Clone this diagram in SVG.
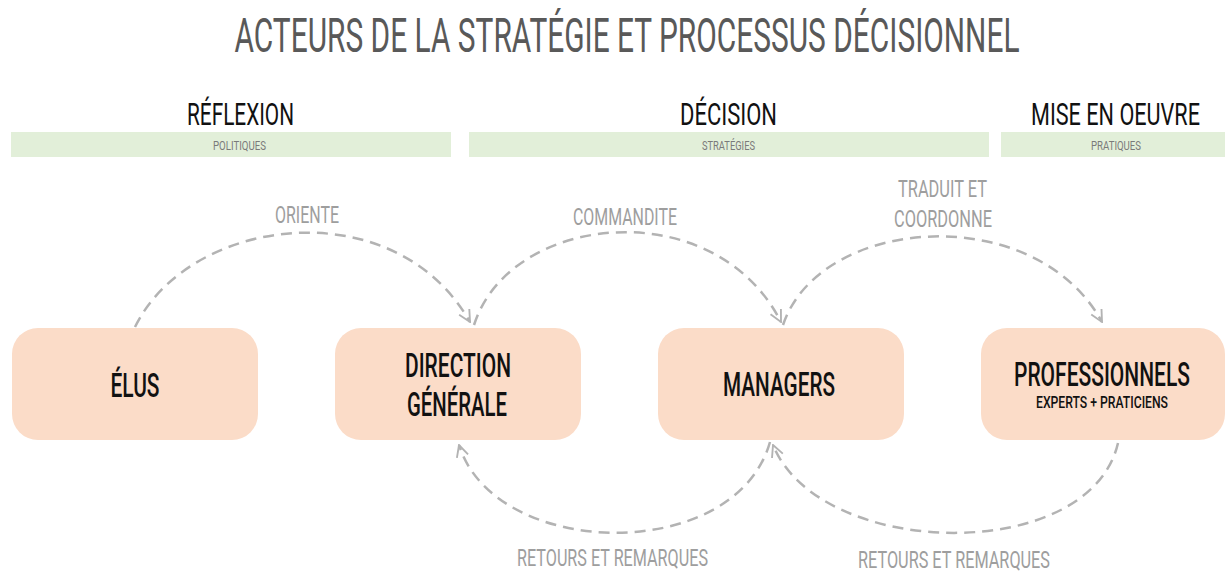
<svg xmlns="http://www.w3.org/2000/svg" width="1225" height="572" viewBox="0 0 1225 572">
<style>
text { font-family: "Roboto", "Liberation Sans", sans-serif; text-anchor: middle; }
.title { font-size: 48px; fill: #595959; font-weight: 400; }
.sec { font-size: 32px; fill: #111; font-weight: 400; }
.sub { font-size: 13px; fill: #7a7a7a; }
.bar { fill: #e2efd9; }
.node rect { fill: #fbdcc8; }
.ntxt { font-size: 33px; fill: #111; font-weight: 500; }
.nsub { font-size: 16px; fill: #111; font-weight: 500; }
.lbl { font-size: 24px; fill: #9e9e9e; }
.conn path { fill: none; stroke: #b3b3b3; stroke-width: 2.5; stroke-dasharray: 11 7; marker-end: url(#arr); }
</style>
<defs>
<marker id="arr" viewBox="0 0 12 12" refX="11" refY="6" markerWidth="14" markerHeight="14" markerUnits="userSpaceOnUse" orient="auto">
<path d="M1,1 L11,6 L1,11" fill="none" stroke="#b3b3b3" stroke-width="1.6"/>
</marker>
</defs>
<rect width="1225" height="572" fill="#ffffff"/>
<text class="title" x="627" y="52" textLength="785" lengthAdjust="spacingAndGlyphs">ACTEURS DE LA STRATÉGIE ET PROCESSUS DÉCISIONNEL</text>

<g id="header-reflexion">
<text class="sec" x="240.5" y="125" textLength="107" lengthAdjust="spacingAndGlyphs">RÉFLEXION</text>
<rect class="bar" x="11" y="132" width="440" height="25"/>
<text class="sub" x="239.5" y="150" textLength="53" lengthAdjust="spacingAndGlyphs">POLITIQUES</text>
</g>
<g id="header-decision">
<text class="sec" x="728.5" y="125" textLength="97" lengthAdjust="spacingAndGlyphs">DÉCISION</text>
<rect class="bar" x="469" y="132" width="520" height="25"/>
<text class="sub" x="728.5" y="150" textLength="53" lengthAdjust="spacingAndGlyphs">STRATÉGIES</text>
</g>
<g id="header-oeuvre">
<text class="sec" x="1115.5" y="125" textLength="169" lengthAdjust="spacingAndGlyphs">MISE EN OEUVRE</text>
<rect class="bar" x="1001" y="132" width="224" height="25"/>
<text class="sub" x="1116" y="150" textLength="50" lengthAdjust="spacingAndGlyphs">PRATIQUES</text>
</g>

<g id="connectors" class="conn">
<path d="M135,327 C190,215 395,190 470,322"/>
<path d="M474,325 C510,212 715,192 781,322"/>
<path d="M783,325 C820,215 1035,200 1102,322"/>
<path d="M770,442 C735,565 495,560 459,445"/>
<path d="M1118,443 C1090,565 820,560 773,445"/>
</g>
<g id="labels">
<text class="lbl" x="307" y="223" textLength="64" lengthAdjust="spacingAndGlyphs">ORIENTE</text>
<text class="lbl" x="625" y="225" textLength="104" lengthAdjust="spacingAndGlyphs">COMMANDITE</text>
<text class="lbl" x="942.5" y="197" textLength="89" lengthAdjust="spacingAndGlyphs">TRADUIT ET</text>
<text class="lbl" x="943" y="227" textLength="98" lengthAdjust="spacingAndGlyphs">COORDONNE</text>
<text class="lbl" x="612.5" y="566" textLength="191" lengthAdjust="spacingAndGlyphs">RETOURS ET REMARQUES</text>
<text class="lbl" x="954" y="568" textLength="192" lengthAdjust="spacingAndGlyphs">RETOURS ET REMARQUES</text>
</g>

<g id="node-elus" class="node">
<rect x="12" y="328" width="246" height="112" rx="26"/>
<text class="ntxt" x="135" y="397" textLength="49" lengthAdjust="spacingAndGlyphs">ÉLUS</text>
</g>
<g id="node-direction" class="node">
<rect x="335" y="328" width="246" height="112" rx="26"/>
<text class="ntxt" x="458" y="377" textLength="106" lengthAdjust="spacingAndGlyphs">DIRECTION</text>
<text class="ntxt" x="457" y="416" textLength="100" lengthAdjust="spacingAndGlyphs">GÉNÉRALE</text>
</g>
<g id="node-managers" class="node">
<rect x="658" y="328" width="246" height="112" rx="26"/>
<text class="ntxt" x="779" y="396" textLength="112" lengthAdjust="spacingAndGlyphs">MANAGERS</text>
</g>
<g id="node-professionnels" class="node">
<rect x="981" y="328" width="244" height="112" rx="26"/>
<text class="ntxt" x="1102" y="386" textLength="176" lengthAdjust="spacingAndGlyphs">PROFESSIONNELS</text>
<text class="nsub" x="1102" y="408" textLength="132" lengthAdjust="spacingAndGlyphs">EXPERTS + PRATICIENS</text>
</g>
</svg>
